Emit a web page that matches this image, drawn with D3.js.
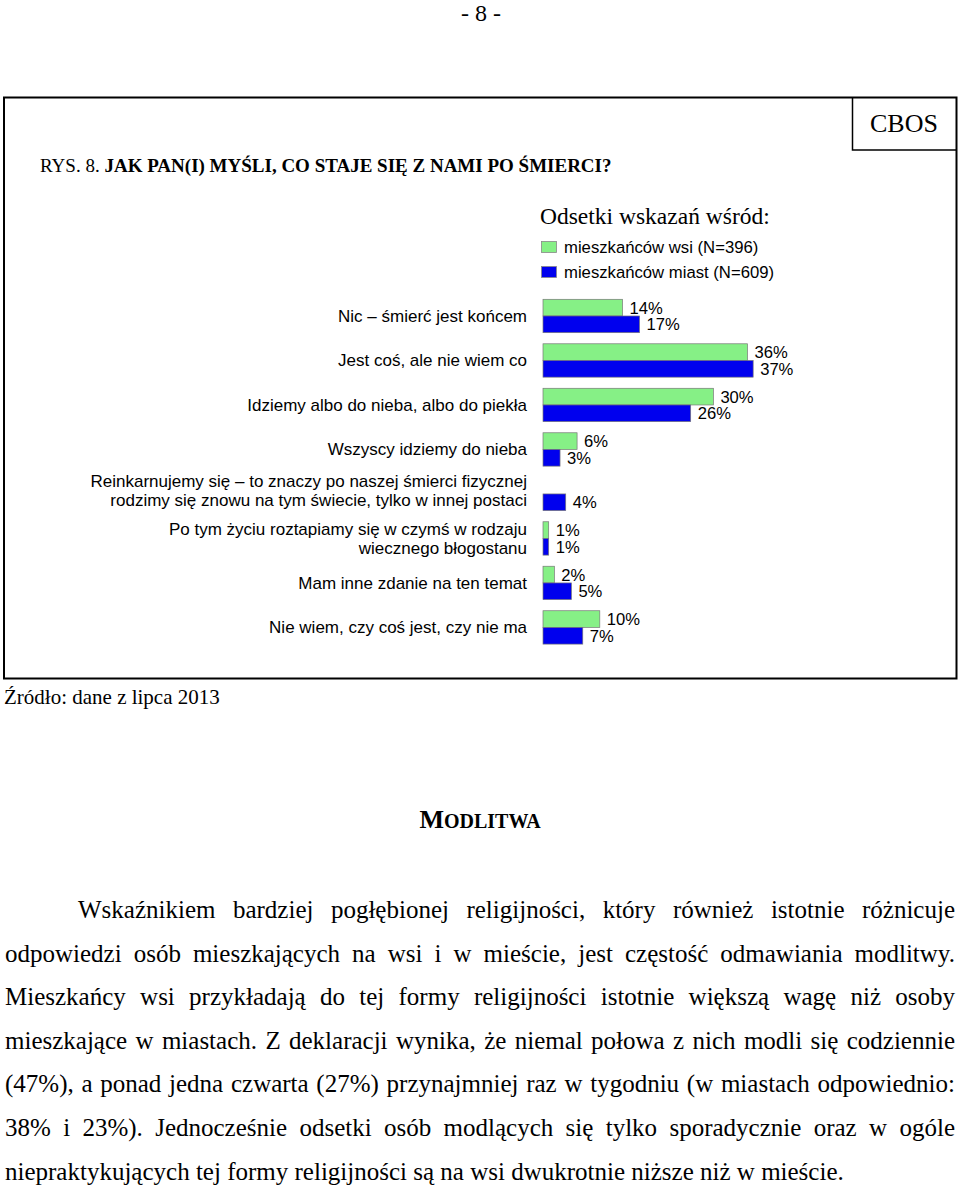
<!DOCTYPE html>
<html><head><meta charset="utf-8">
<script src="https://cdn.jsdelivr.net/npm/d3@7"></script>
<style>html,body{margin:0;padding:0;background:#fff;}svg{display:block;}</style>
</head><body>
<svg id="c" width="960" height="1186"></svg>
<script>
const categories = [
  ["Nic – śmierć jest końcem"],
  ["Jest coś, ale nie wiem co"],
  ["Idziemy albo do nieba, albo do piekła"],
  ["Wszyscy idziemy do nieba"],
  ["Reinkarnujemy się – to znaczy po naszej śmierci fizycznej", "rodzimy się znowu na tym świecie, tylko w innej postaci"],
  ["Po tym życiu roztapiamy się w czymś w rodzaju", "wiecznego błogostanu"],
  ["Mam inne zdanie na ten temat"],
  ["Nie wiem, czy coś jest, czy nie ma"]
];
const seriesNames = ["mieszkańców wsi (N=396)", "mieszkańców miast (N=609)"];
const wsi   = [14, 36, 30, 6, null, 1, 2, 10];
const miast = [17, 37, 26, 3, 4, 1, 5, 7];
const colors = ["#86F086", "#0000EE"];

const paragraphLines = [
  "Wskaźnikiem bardziej pogłębionej religijności, który również istotnie różnicuje",
  "odpowiedzi osób mieszkających na wsi i w mieście, jest częstość odmawiania modlitwy.",
  "Mieszkańcy wsi przykładają do tej formy religijności istotnie większą wagę niż osoby",
  "mieszkające w miastach. Z deklaracji wynika, że niemal połowa z nich modli się codziennie",
  "(47%), a ponad jedna czwarta (27%) przynajmniej raz w tygodniu (w miastach odpowiednio:",
  "38% i 23%). Jednocześnie odsetki osób modlących się tylko sporadycznie oraz w ogóle",
  "niepraktykujących tej formy religijności są na wsi dwukrotnie niższe niż w mieście."
];

const svg = d3.select("#c");
const serif = "'Liberation Serif','Times New Roman',serif";
const sans = "'Liberation Sans',Arial,sans-serif";

// page number
svg.append("text").attr("x", 481).attr("y", 21).attr("text-anchor", "middle")
  .style("font-family", serif).style("font-size", "24px").text("- 8 -");

// frame
svg.append("path").attr("d", "M4,97.5 H956.5 V678.5 H4 Z").attr("fill", "none").attr("stroke", "#000").attr("stroke-width", 2);
svg.append("path").attr("d", "M852.5,97.5 V150 H956.5").attr("fill", "none").attr("stroke", "#000").attr("stroke-width", 1.5);
svg.append("text").attr("x", 904).attr("y", 132).attr("text-anchor", "middle")
  .style("font-family", serif).style("font-size", "26px").text("CBOS");

// title
const t = svg.append("text").attr("x", 40).attr("y", 172).style("font-family", serif).style("font-size", "19px");
t.append("tspan").text("RYS. 8. ");
t.append("tspan").style("font-weight", "bold").text("JAK PAN(I) MYŚLI, CO STAJE SIĘ Z NAMI PO ŚMIERCI?");

// legend
svg.append("text").attr("x", 540).attr("y", 224).style("font-family", serif).style("font-size", "23.5px").text("Odsetki wskazań wśród:");
seriesNames.forEach((s, i) => {
  const y = 241 + i * 25;
  svg.append("rect").attr("x", 541.5).attr("y", y + 0.5).attr("width", 15).attr("height", 11)
    .attr("fill", colors[i]).attr("stroke", "#888").attr("stroke-width", 0.8);
  svg.append("text").attr("x", 564).attr("y", y + 6).attr("dy", "0.35em")
    .style("font-family", sans).style("font-size", "16.7px").text(s);
});

// scales
const x = d3.scaleLinear().domain([0, 100]).range([543, 543 + 568]);
const y = d3.scaleBand().domain(d3.range(categories.length)).range([299.3, 299.3 + 344.8]).paddingInner(0.25).paddingOuter(0);
const ys = d3.scaleBand().domain([0, 1]).range([0, y.bandwidth()]);

const g = svg.append("g");
const data = [wsi, miast];
data.forEach((arr, si) => {
  arr.forEach((v, ci) => {
    if (v == null) return;
    const yy = y(ci) + ys(si);
    g.append("rect").attr("x", x(0)).attr("y", yy).attr("width", x(v) - x(0)).attr("height", ys.bandwidth())
      .attr("fill", colors[si]).attr("stroke", "#777").attr("stroke-width", 0.7);
    g.append("text").attr("x", x(v) + 7).attr("y", yy + ys.bandwidth() / 2).attr("dy", "0.36em")
      .style("font-family", sans).style("font-size", "16.6px").text(v + "%");
  });
});

// category labels
categories.forEach((lines, ci) => {
  const cy = y(ci) + y.bandwidth() / 2 - (lines.length > 1 && ci === 4 ? 3 : 0);
  const lh = 19;
  const txt = svg.append("text").attr("text-anchor", "end").style("font-family", sans).style("font-size", "17px");
  lines.forEach((l, li) => {
    txt.append("tspan").attr("x", 527).attr("y", cy + (li - (lines.length - 1) / 2) * lh).attr("dy", "0.35em").text(l);
  });
});

// source
svg.append("text").attr("x", 4).attr("y", 704).style("font-family", serif).style("font-size", "21px").text("Źródło: dane z lipca 2013");

// heading
const h = svg.append("text").attr("x", 480).attr("y", 828).attr("text-anchor", "middle")
  .style("font-family", serif).style("font-weight", "bold");
h.append("tspan").style("font-size", "26px").text("M");
h.append("tspan").style("font-size", "20px").text("ODLITWA");

// paragraph, justified
const lineY0 = 918, lineH = 43.6, left = 5, right = 955, indent = 78;
paragraphLines.forEach((line, li) => {
  const words = line.split(" ");
  const yy = lineY0 + li * lineH;
  const x0 = li === 0 ? indent : left;
  const grp = svg.append("g");
  const nodes = words.map(w => grp.append("text").attr("y", yy).style("font-family", serif).style("font-size", "25px").text(w));
  const widths = nodes.map(n => n.node().getComputedTextLength());
  const total = d3.sum(widths);
  const last = li === paragraphLines.length - 1;
  const spaceW = last ? 6.25 : (right - x0 - total) / (words.length - 1);
  let cx = x0;
  nodes.forEach((n, i) => { n.attr("x", cx); cx += widths[i] + spaceW; });
});
</script>
</body></html>
